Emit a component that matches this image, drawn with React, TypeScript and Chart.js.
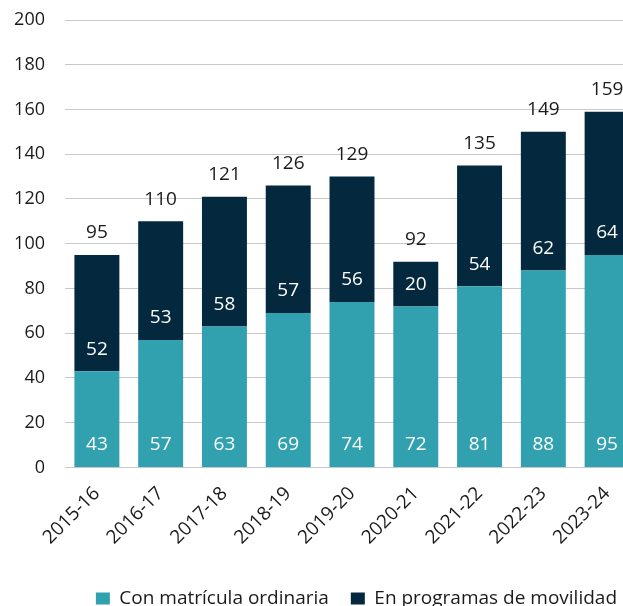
import React, { useEffect, useRef } from "react";
import { Chart, registerables } from "chart.js";

Chart.register(...registerables);

const categories = ["2015-16", "2016-17", "2017-18", "2018-19", "2019-20", "2020-21", "2021-22", "2022-23", "2023-24"];
const ordinaria = [43, 57, 63, 69, 74, 72, 81, 88, 95];
const movilidad = [52, 53, 58, 57, 56, 20, 54, 62, 64];
const totals = [95, 110, 121, 126, 129, 92, 135, 149, 159];
const yTicks = { min: 0, max: 200, step: 20 };

const TEAL = "#31A0AF";
const NAVY = "#04283D";
const FONT = '"Open Sans", sans-serif';

const labelPlugin = {
  id: "barLabels",
  afterDatasetsDraw(chart: any) {
    const ctx = chart.ctx;
    ctx.save();
    ctx.font = `19px ${FONT}`;
    ctx.textAlign = "center";
    ctx.textBaseline = "middle";
    chart.data.datasets.forEach((ds: any, di: number) => {
      const meta = chart.getDatasetMeta(di);
      meta.data.forEach((el: any, i: number) => {
        const p = el.getProps(["x", "base"], true);
        ctx.fillStyle = "#ffffff";
        ctx.fillText(String(ds.data[i]), p.x, p.base - 22);
      });
    });
    const topMeta = chart.getDatasetMeta(chart.data.datasets.length - 1);
    topMeta.data.forEach((el: any, i: number) => {
      const p = el.getProps(["x", "y"], true);
      ctx.fillStyle = "#1a1a1a";
      ctx.fillText(String(totals[i]), p.x, p.y - 22);
    });
    ctx.restore();
  },
};

export default function App() {
  const ref = useRef<HTMLCanvasElement | null>(null);
  useEffect(() => {
    if (!ref.current) return;
    const chart = new Chart(ref.current, {
      type: "bar",
      data: {
        labels: categories,
        datasets: [
          {
            label: "Con matrícula ordinaria",
            data: ordinaria,
            backgroundColor: TEAL,
            categoryPercentage: 1,
            barPercentage: 0.705,
          },
          {
            label: "En programas de movilidad",
            data: movilidad,
            backgroundColor: NAVY,
            categoryPercentage: 1,
            barPercentage: 0.705,
          },
        ],
      },
      options: {
        animation: false,
        responsive: false,
        layout: { padding: { left: 13, right: 1, top: 20, bottom: -12 } },
        plugins: {
          legend: {
            position: "bottom",
            align: "end",
            labels: {
              font: { family: FONT, size: 19 },
              color: "#1a1a1a",
              boxWidth: 14,
              boxHeight: 12,
              padding: 22,
            },
          },
          tooltip: { enabled: false },
        },
        scales: {
          x: {
            stacked: true,
            grid: { display: false },
            border: { display: false },
            afterFit: (scale: any) => {
              scale.paddingLeft = 0;
              scale.paddingRight = 0;
              scale.height += 11;
            },
            ticks: {
              color: "#1a1a1a",
              font: { family: FONT, size: 19 },
              maxRotation: 45,
              minRotation: 45,
              padding: 7,
            },
          },
          y: {
            stacked: true,
            min: yTicks.min,
            max: yTicks.max,
            border: { display: false },
            grid: { color: "#C8C8C8", lineWidth: 1, drawTicks: false },
            afterFit: (scale: any) => {
              scale.width = 52;
              scale.paddingTop = 0;
              scale.paddingBottom = 0;
            },
            ticks: {
              stepSize: yTicks.step,
              color: "#1a1a1a",
              font: { family: FONT, size: 18 },
              padding: 20,
            },
          },
        },
      },
      plugins: [labelPlugin],
    });
    return () => chart.destroy();
  }, []);
  return (
    <div style={{ position: "fixed", left: 0, top: 0, width: 623, height: 606, overflow: "hidden", background: "#fff" }}>
      <canvas ref={ref} width={640} height={606} style={{ display: "block" }} />
    </div>
  );
}
